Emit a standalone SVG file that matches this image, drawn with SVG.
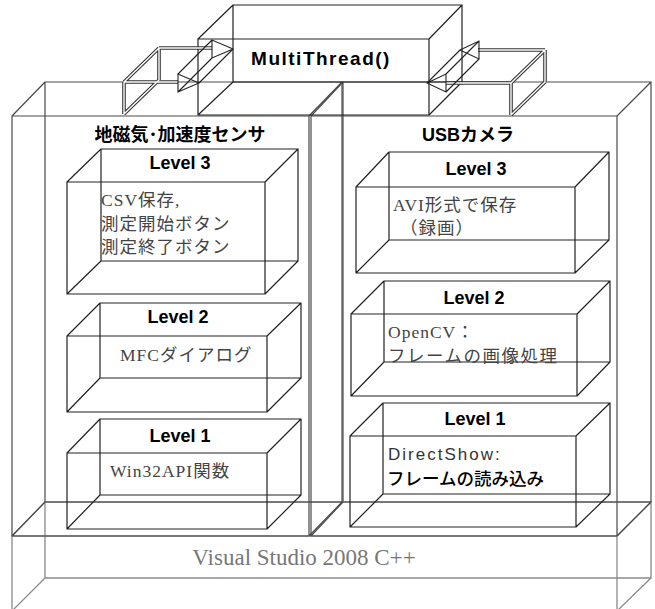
<svg xmlns="http://www.w3.org/2000/svg" width="655" height="609" viewBox="0 0 655 609">
<style>
.col{fill:none;stroke:#4a4a4a;stroke-width:1.2}
.lv{fill:none;stroke:#222;stroke-width:1.2}
.vsb{fill:none;stroke:#8a8a8a;stroke-width:1.3}
.mt{fill:none;stroke:#222;stroke-width:1.2}
.dbl-o{fill:none;stroke:#333;stroke-width:3.6}
.dbl-i{fill:none;stroke:#fff;stroke-width:1.4}
.head{fill:none;stroke:#222;stroke-width:1.1}
.lvl{font-family:"Liberation Sans",Arial,sans-serif;font-weight:bold;font-size:18px;text-anchor:middle;fill:#000}
.hdr{font-family:"Liberation Sans","Noto Sans CJK JP",sans-serif;font-weight:bold;font-size:18px;text-anchor:middle;fill:#000}
.body{font-family:"Liberation Serif","Noto Sans CJK JP",serif;font-size:17.5px;letter-spacing:1px;fill:#444}
.sans{font-family:"Liberation Sans","Noto Sans CJK JP",sans-serif;font-size:17px;fill:#333}
.vs{font-family:"Liberation Serif",serif;font-size:23px;text-anchor:middle;fill:#777}
</style>
<defs>
<path id="arrowL" d="M124,114 V82 M124,82 L159,48 M159,48 V80 M124,114 L159,80 M124,82 H178 M159,48 H212"/>
<path id="arrowR" d="M511,115 V83 M511,83 L545,50 M545,50 V82 M511,115 L545,82 M446,83 H511 M478,50 H545"/>
</defs>

<g id="visual-studio">
<path class="vsb" d="M12,536 H617 V611 H12 Z M45,502 H651 V578 H45 Z M12,536 L45,502 M617,536 L651,502 M12,611 L45,578 M617,611 L651,578"/>
<text class="vs" x="304" y="565">Visual Studio 2008 C++</text>
</g>

<g id="sensor-column">
<path class="col" d="M12,116 H309 V536 H12 Z M45,82 H342 V502 H45 Z M12,116 L45,82 M309,116 L342,82 M309,536 L342,502 M12,536 L45,502"/>
<text class="hdr" x="180" y="141">地磁気･加速度センサ</text>
</g>

<g id="camera-column">
<path class="col" d="M311,116 H617 V536 H311 Z M343,82 H651 V502 H343 Z M311,116 L343,82 M617,116 L651,82 M617,536 L651,502 M311,536 L343,502"/>
<text class="hdr" x="468" y="141">USBカメラ</text>
</g>

<g id="multithread">
<path class="mt" d="M198,39 H429 V115 H198 Z M233,5 H462 V82 H233 Z M198,39 L233,5 M429,39 L462,5 M429,115 L462,82 M198,115 L233,82"/>
<text class="lvl" x="321" y="65" style="font-size:19px;letter-spacing:1.5px">MultiThread()</text>
</g>

<g id="sensor-level3">
<path class="lv" d="M67,182 H265 V294 H67 Z M101,149 H298 V261 H101 Z M67,182 L101,149 M265,182 L298,149 M265,294 L298,261 M67,294 L101,261"/>
<text class="lvl" x="180" y="169">Level 3</text>
<text class="body" x="101" y="206">CSV保存,</text>
<text class="body" x="101" y="230">測定開始ボタン</text>
<text class="body" x="101" y="253">測定終了ボタン</text>
</g>

<g id="sensor-level2">
<path class="lv" d="M67,336 H267 V412 H67 Z M100,303 H301 V378 H100 Z M67,336 L100,303 M267,336 L301,303 M267,412 L301,378 M67,412 L100,378"/>
<text class="lvl" x="178" y="323">Level 2</text>
<text class="body" x="120" y="361">MFCダイアログ</text>
</g>

<g id="sensor-level1">
<path class="lv" d="M67,453 H267 V529 H67 Z M100,419 H301 V495 H100 Z M67,453 L100,419 M267,453 L301,419 M267,529 L301,495 M67,529 L100,495"/>
<text class="lvl" x="180" y="442">Level 1</text>
<text class="body" x="110" y="477">Win32API関数</text>
</g>

<g id="camera-level3">
<path class="lv" d="M356,187 H575 V273 H356 Z M389,152 H609 V240 H389 Z M356,187 L389,152 M575,187 L609,152 M575,273 L609,240 M356,273 L389,240"/>
<text class="lvl" x="476" y="175">Level 3</text>
<text class="body" x="393" y="211">AVI形式で保存</text>
<text class="body" x="400" y="234">（録画）</text>
</g>

<g id="camera-level2">
<path class="lv" d="M351,314 H577 V396 H351 Z M384,281 H610 V362 H384 Z M351,314 L384,281 M577,314 L610,281 M577,396 L610,362 M351,396 L384,362"/>
<text class="lvl" x="474" y="304">Level 2</text>
<text class="body" x="388" y="338">OpenCV：</text>
<text class="body" x="388" y="362" style="letter-spacing:1.5px">フレームの画像処理</text>
</g>

<g id="camera-level1">
<path class="lv" d="M350,436 H576 V527 H350 Z M383,403 H610 V494 H383 Z M350,436 L383,403 M576,436 L610,403 M576,527 L610,494 M350,527 L383,494"/>
<text class="lvl" x="475" y="425">Level 1</text>
<text class="sans" x="388" y="460" style="letter-spacing:2px">DirectShow:</text>
<text class="sans" x="387" y="485" style="fill:#000;font-weight:500;font-size:17.5px">フレームの読み込み</text>
</g>

<g id="connectors">
<use href="#arrowL" class="dbl-o"/>
<use href="#arrowL" class="dbl-i"/>
<path class="head" d="M178,74 V92 L199,83 Z M212,40 V58 L233,49 Z M178,74 L212,40 M178,92 L212,58 M199,83 L233,49"/>
<use href="#arrowR" class="dbl-o"/>
<use href="#arrowR" class="dbl-i"/>
<path class="head" d="M446,74 V92 L427,83 Z M479,41 V59 L460,50 Z M446,74 L479,41 M446,92 L479,59 M427,83 L460,50"/>
</g>
</svg>
